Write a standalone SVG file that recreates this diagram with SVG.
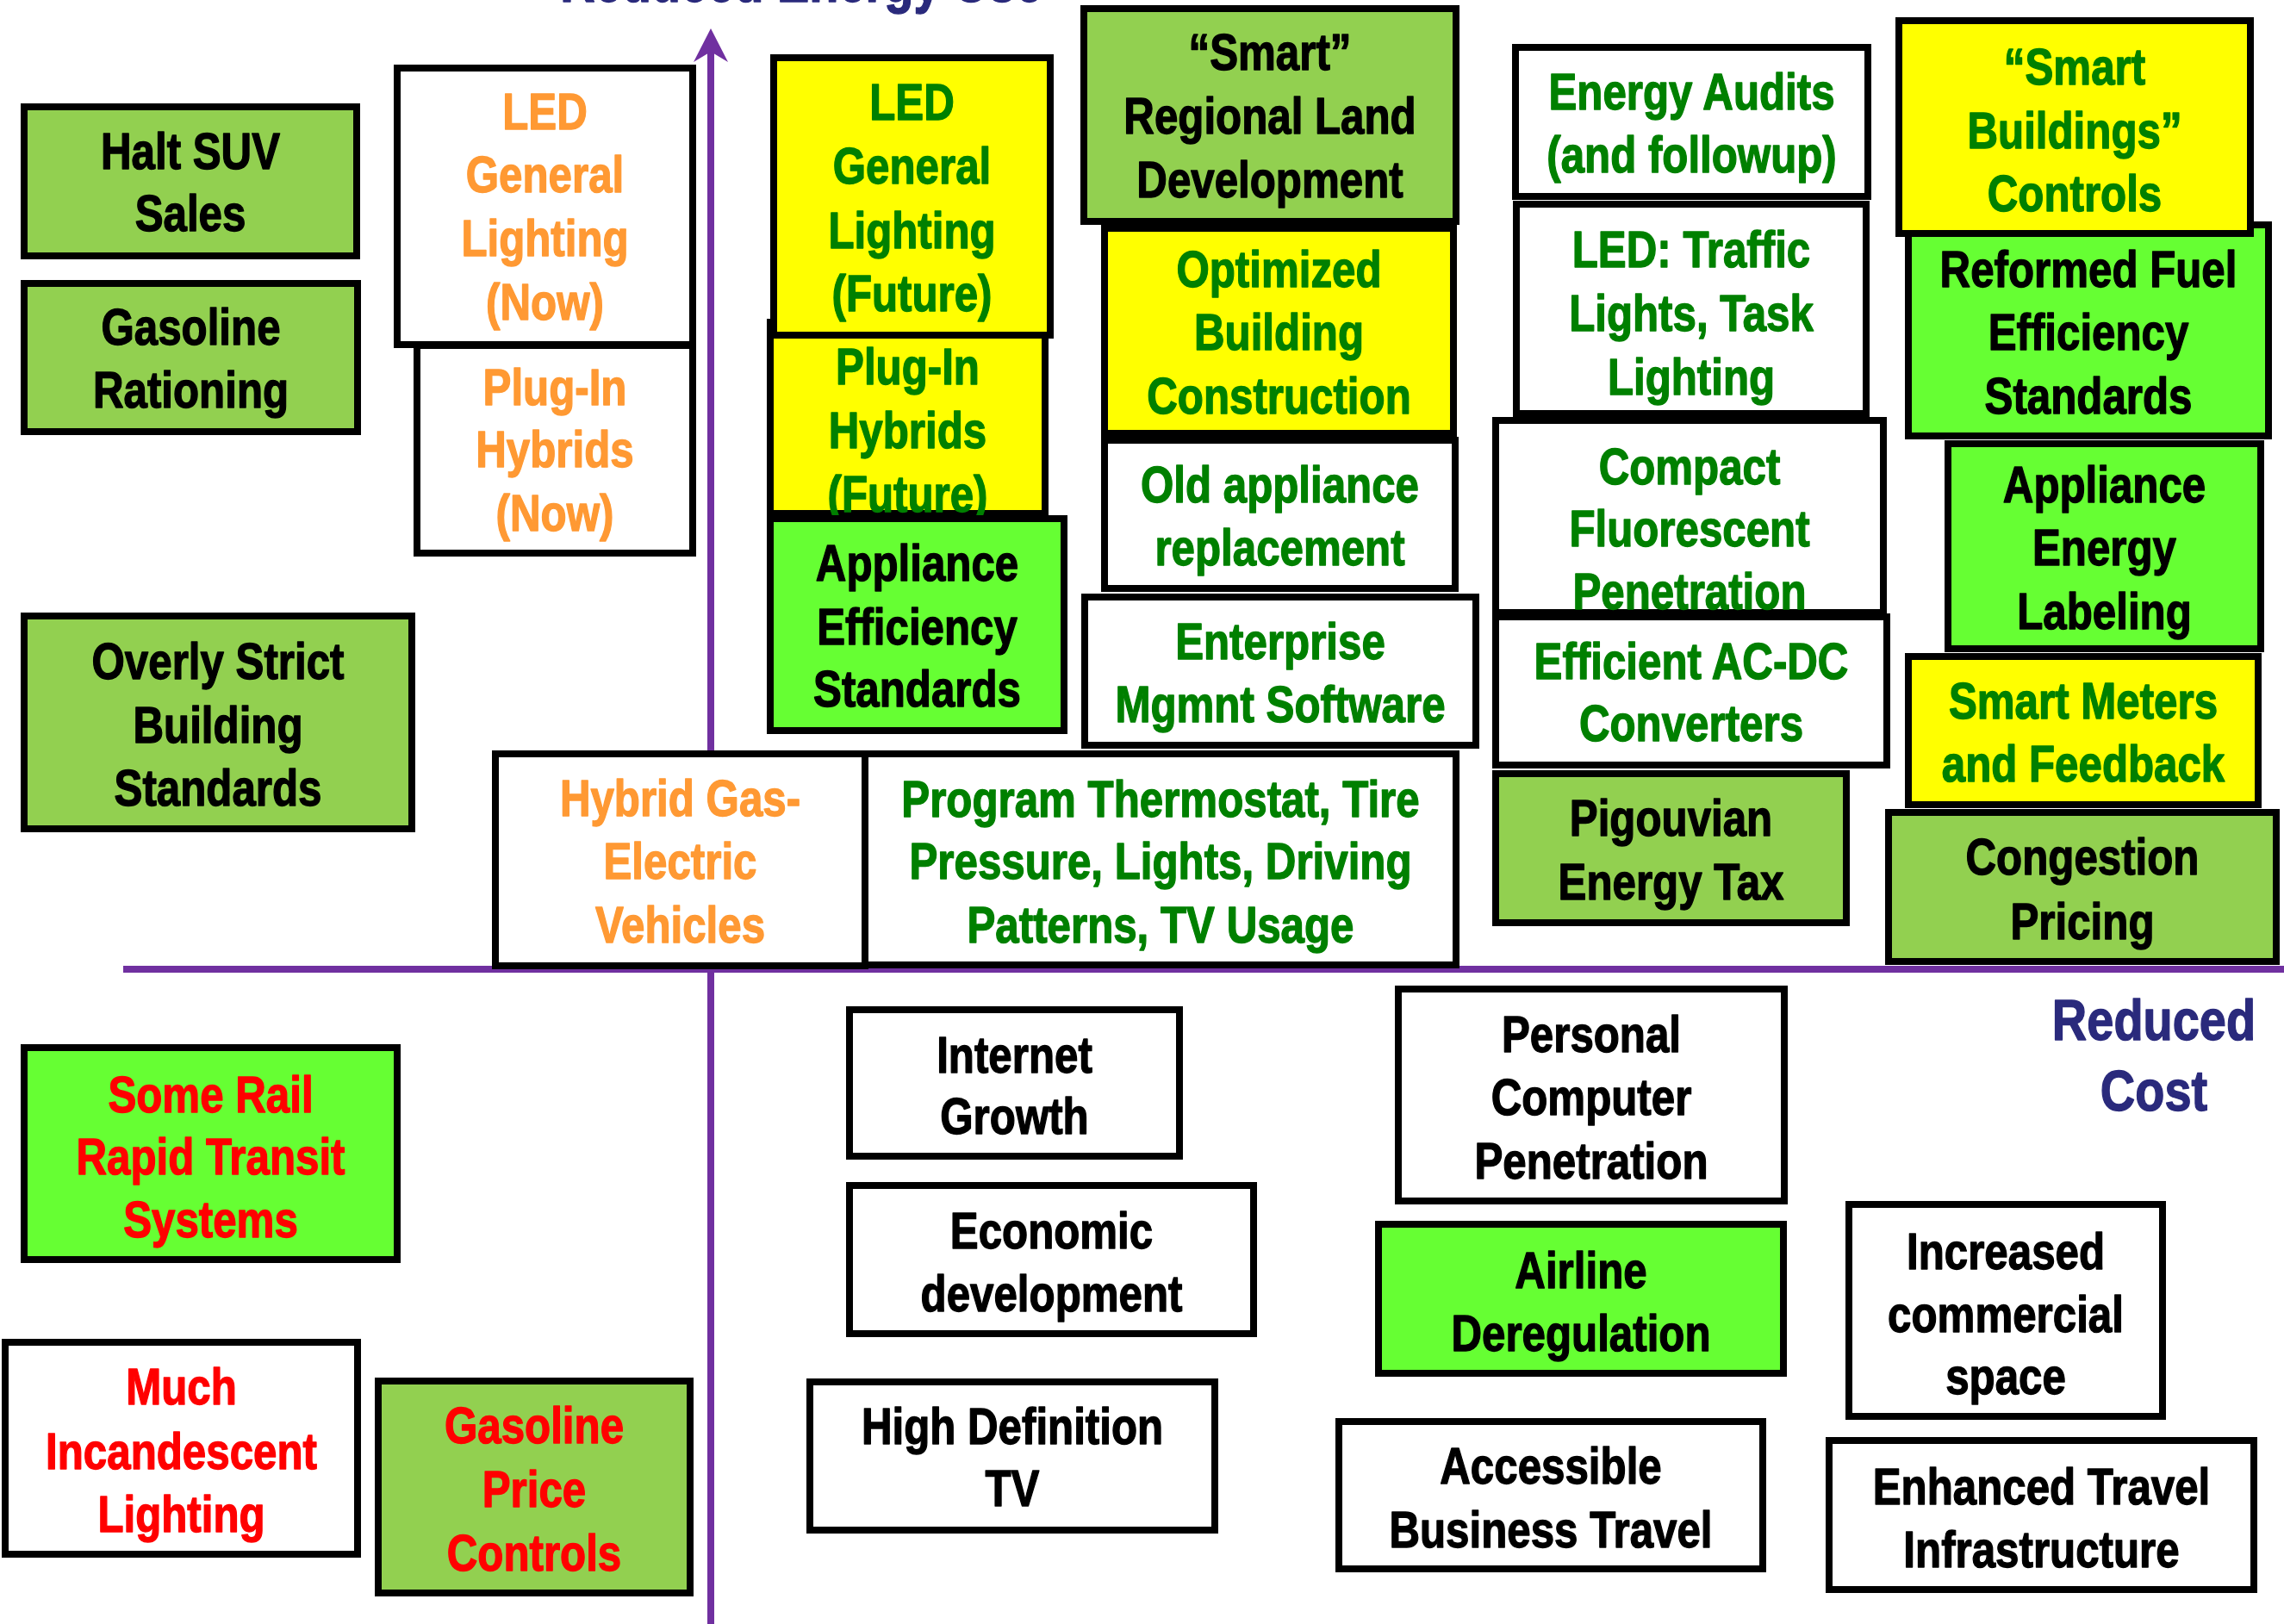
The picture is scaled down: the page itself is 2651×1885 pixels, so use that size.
<svg xmlns="http://www.w3.org/2000/svg" width="2651" height="1885" viewBox="0 0 2651 1885">
  <style>
    .box { stroke: #000; stroke-width: 8; }
    .olive { fill: #92D050; }
    .lime { fill: #66FF33; }
    .yellow { fill: #FFFF00; }
    .white { fill: #FFFFFF; }
    text { font-family: "Liberation Sans", Arial, sans-serif; font-weight: bold; font-size: 59px; text-anchor: middle; stroke-width: 1.4; stroke-linejoin: round; }
    .t-black { fill: #000; stroke: #000; }
    .t-green { fill: #008000; stroke: #008000; }
    .t-orange { fill: #FF9933; stroke: #FF9933; }
    .t-red { fill: #FF0000; stroke: #FF0000; }
    .t-navy { fill: #2A2A7C; stroke: #2A2A7C; font-size: 67px; }
    .axis { stroke: #7030A0; fill: none; }
  </style>
  <defs>
    <marker id="axis-head" markerUnits="userSpaceOnUse" viewBox="-12 -20 39 40" markerWidth="39" markerHeight="40" refX="0" refY="0" orient="auto" overflow="visible">
      <path d="M27,0 L-12,-20 L0,0 L-12,20 Z" fill="#7030A0"/>
    </marker>
  </defs>

  <rect width="2651" height="1885" fill="#FFFFFF"/>

  <!-- axis titles -->
  <text class="t-navy" transform="translate(930 0) scale(0.835 1)"><tspan x="0" y="2">Reduced Energy Use</tspan></text>
  <text class="t-navy" transform="translate(2500 0) scale(0.835 1)"><tspan x="0" y="1207">Reduced</tspan><tspan x="0" y="1289">Cost</tspan></text>

  <!-- axes -->
  <g id="connectors">
    <line class="axis" x1="825" y1="1885" x2="825" y2="60" stroke-width="8" marker-end="url(#axis-head)"/>
    <line class="axis" x1="143" y1="1125" x2="2651" y2="1125" stroke-width="8"/>
  </g>

  <!-- upper-left quadrant -->
  <g id="halt-suv-sales">
    <rect class="box olive" x="28" y="124" width="386" height="173"/>
    <text class="t-black" transform="translate(221 0) scale(0.835 1)"><tspan x="0" y="196">Halt SUV</tspan><tspan x="0" y="268">Sales</tspan></text>
  </g>
  <g id="gasoline-rationing">
    <rect class="box olive" x="28" y="329" width="387" height="172"/>
    <text class="t-black" transform="translate(221.5 0) scale(0.835 1)"><tspan x="0" y="400">Gasoline</tspan><tspan x="0" y="473">Rationing</tspan></text>
  </g>
  <g id="plug-in-hybrids-now">
    <rect class="box white" x="484" y="401" width="320" height="241"/>
    <text class="t-orange" transform="translate(644 0) scale(0.835 1)"><tspan x="0" y="470">Plug-In</tspan><tspan x="0" y="542">Hybrids</tspan><tspan x="0" y="616">(Now)</tspan></text>
  </g>
  <g id="led-general-lighting-now">
    <rect class="box white" x="461" y="79" width="343" height="321"/>
    <text class="t-orange" transform="translate(632.5 0) scale(0.835 1)"><tspan x="0" y="150">LED</tspan><tspan x="0" y="223">General</tspan><tspan x="0" y="297">Lighting</tspan><tspan x="0" y="371">(Now)</tspan></text>
  </g>
  <g id="overly-strict-building-standards">
    <rect class="box olive" x="28" y="715" width="450" height="247"/>
    <text class="t-black" transform="translate(253 0) scale(0.835 1)"><tspan x="0" y="788">Overly Strict</tspan><tspan x="0" y="862">Building</tspan><tspan x="0" y="935">Standards</tspan></text>
  </g>
  <g id="hybrid-gas-electric-vehicles">
    <rect class="box white" x="575" y="875" width="429" height="246"/>
    <text class="t-orange" transform="translate(789.5 0) scale(0.835 1)"><tspan x="0" y="947">Hybrid Gas-</tspan><tspan x="0" y="1020">Electric</tspan><tspan x="0" y="1094">Vehicles</tspan></text>
  </g>

  <!-- upper-right quadrant -->
  <g id="plug-in-hybrids-future">
    <rect class="box yellow" x="894" y="374" width="319" height="222"/>
    <text class="t-green" transform="translate(1053.5 0) scale(0.835 1)"><tspan x="0" y="446">Plug-In</tspan><tspan x="0" y="520">Hybrids</tspan><tspan x="0" y="594">(Future)</tspan></text>
  </g>
  <g id="led-general-lighting-future">
    <rect class="box yellow" x="898" y="67" width="321" height="322"/>
    <text class="t-green" transform="translate(1058.5 0) scale(0.835 1)"><tspan x="0" y="139">LED</tspan><tspan x="0" y="213">General</tspan><tspan x="0" y="288">Lighting</tspan><tspan x="0" y="361">(Future)</tspan></text>
  </g>
  <g id="appliance-efficiency-standards">
    <rect class="box lime" x="894" y="602" width="341" height="246"/>
    <text class="t-black" transform="translate(1064.5 0) scale(0.835 1)"><tspan x="0" y="674">Appliance</tspan><tspan x="0" y="748">Efficiency</tspan><tspan x="0" y="820">Standards</tspan></text>
  </g>
  <g id="smart-regional-land-development">
    <rect class="box olive" x="1258" y="10" width="432" height="247"/>
    <text class="t-black" transform="translate(1474 0) scale(0.835 1)"><tspan x="0" y="81">“Smart”</tspan><tspan x="0" y="155">Regional Land</tspan><tspan x="0" y="229">Development</tspan></text>
  </g>
  <g id="optimized-building-construction">
    <rect class="box yellow" x="1282" y="265" width="405" height="238"/>
    <text class="t-green" transform="translate(1484.5 0) scale(0.835 1)"><tspan x="0" y="333">Optimized</tspan><tspan x="0" y="406">Building</tspan><tspan x="0" y="480">Construction</tspan></text>
  </g>
  <g id="old-appliance-replacement">
    <rect class="box white" x="1282" y="511" width="407" height="172"/>
    <text class="t-green" transform="translate(1485.5 0) scale(0.835 1)"><tspan x="0" y="583">Old appliance</tspan><tspan x="0" y="656">replacement</tspan></text>
  </g>
  <g id="enterprise-mgmnt-software">
    <rect class="box white" x="1259" y="693" width="454" height="172"/>
    <text class="t-green" transform="translate(1486 0) scale(0.835 1)"><tspan x="0" y="765">Enterprise</tspan><tspan x="0" y="838">Mgmnt Software</tspan></text>
  </g>
  <g id="program-thermostat">
    <rect class="box white" x="1004" y="875" width="686" height="245"/>
    <text class="t-green" transform="translate(1347 0) scale(0.835 1)"><tspan x="0" y="948">Program Thermostat, Tire</tspan><tspan x="0" y="1020">Pressure, Lights, Driving</tspan><tspan x="0" y="1094">Patterns, TV Usage</tspan></text>
  </g>
  <g id="energy-audits">
    <rect class="box white" x="1759" y="55" width="409" height="173"/>
    <text class="t-green" transform="translate(1963.5 0) scale(0.835 1)"><tspan x="0" y="127">Energy Audits</tspan><tspan x="0" y="200">(and followup)</tspan></text>
  </g>
  <g id="led-traffic-task-lighting">
    <rect class="box white" x="1760" y="237" width="406" height="243"/>
    <text class="t-green" transform="translate(1963 0) scale(0.835 1)"><tspan x="0" y="310">LED: Traffic</tspan><tspan x="0" y="384">Lights, Task</tspan><tspan x="0" y="458">Lighting</tspan></text>
  </g>
  <g id="compact-fluorescent-penetration">
    <rect class="box white" x="1736" y="488" width="450" height="223"/>
    <text class="t-green" transform="translate(1961 0) scale(0.835 1)"><tspan x="0" y="562">Compact</tspan><tspan x="0" y="634">Fluorescent</tspan><tspan x="0" y="707">Penetration</tspan></text>
  </g>
  <g id="efficient-ac-dc-converters">
    <rect class="box white" x="1736" y="716" width="454" height="172"/>
    <text class="t-green" transform="translate(1963 0) scale(0.835 1)"><tspan x="0" y="788">Efficient AC-DC</tspan><tspan x="0" y="860">Converters</tspan></text>
  </g>
  <g id="pigouvian-energy-tax">
    <rect class="box olive" x="1736" y="898" width="407" height="173"/>
    <text class="t-black" transform="translate(1939.5 0) scale(0.835 1)"><tspan x="0" y="970">Pigouvian</tspan><tspan x="0" y="1044">Energy Tax</tspan></text>
  </g>
  <g id="reformed-fuel-efficiency-standards">
    <rect class="box lime" x="2215" y="261" width="418" height="245"/>
    <text class="t-black" transform="translate(2424 0) scale(0.835 1)"><tspan x="0" y="333">Reformed Fuel</tspan><tspan x="0" y="406">Efficiency</tspan><tspan x="0" y="480">Standards</tspan></text>
  </g>
  <g id="smart-buildings-controls">
    <rect class="box yellow" x="2204" y="24" width="408" height="247"/>
    <text class="t-green" transform="translate(2408 0) scale(0.835 1)"><tspan x="0" y="98">“Smart</tspan><tspan x="0" y="172">Buildings”</tspan><tspan x="0" y="245">Controls</tspan></text>
  </g>
  <g id="appliance-energy-labeling">
    <rect class="box lime" x="2261" y="515" width="363" height="238"/>
    <text class="t-black" transform="translate(2442.5 0) scale(0.835 1)"><tspan x="0" y="583">Appliance</tspan><tspan x="0" y="656">Energy</tspan><tspan x="0" y="730">Labeling</tspan></text>
  </g>
  <g id="smart-meters-feedback">
    <rect class="box yellow" x="2215" y="762" width="406" height="172"/>
    <text class="t-green" transform="translate(2418 0) scale(0.835 1)"><tspan x="0" y="834">Smart Meters</tspan><tspan x="0" y="907">and Feedback</tspan></text>
  </g>
  <g id="congestion-pricing">
    <rect class="box olive" x="2192" y="943" width="450" height="173"/>
    <text class="t-black" transform="translate(2417 0) scale(0.835 1)"><tspan x="0" y="1015">Congestion</tspan><tspan x="0" y="1090">Pricing</tspan></text>
  </g>

  <!-- lower-left quadrant -->
  <g id="some-rail-rapid-transit">
    <rect class="box lime" x="28" y="1216" width="433" height="246"/>
    <text class="t-red" transform="translate(244.5 0) scale(0.835 1)"><tspan x="0" y="1291">Some Rail</tspan><tspan x="0" y="1363">Rapid Transit</tspan><tspan x="0" y="1436">Systems</tspan></text>
  </g>
  <g id="much-incandescent-lighting">
    <rect class="box white" x="6" y="1558" width="409" height="246"/>
    <text class="t-red" transform="translate(210.5 0) scale(0.835 1)"><tspan x="0" y="1630">Much</tspan><tspan x="0" y="1705">Incandescent</tspan><tspan x="0" y="1778">Lighting</tspan></text>
  </g>
  <g id="gasoline-price-controls">
    <rect class="box olive" x="439" y="1603" width="362" height="246"/>
    <text class="t-red" transform="translate(620 0) scale(0.835 1)"><tspan x="0" y="1675">Gasoline</tspan><tspan x="0" y="1749">Price</tspan><tspan x="0" y="1823">Controls</tspan></text>
  </g>

  <!-- lower-right quadrant -->
  <g id="internet-growth">
    <rect class="box white" x="986" y="1172" width="383" height="170"/>
    <text class="t-black" transform="translate(1177.5 0) scale(0.835 1)"><tspan x="0" y="1245">Internet</tspan><tspan x="0" y="1316">Growth</tspan></text>
  </g>
  <g id="economic-development">
    <rect class="box white" x="986" y="1376" width="469" height="172"/>
    <text class="t-black" transform="translate(1220.5 0) scale(0.835 1)"><tspan x="0" y="1449">Economic</tspan><tspan x="0" y="1522">development</tspan></text>
  </g>
  <g id="high-definition-tv">
    <rect class="box white" x="940" y="1604" width="470" height="172"/>
    <text class="t-black" transform="translate(1175 0) scale(0.835 1)"><tspan x="0" y="1676">High Definition</tspan><tspan x="0" y="1748">TV</tspan></text>
  </g>
  <g id="personal-computer-penetration">
    <rect class="box white" x="1623" y="1148" width="448" height="246"/>
    <text class="t-black" transform="translate(1847 0) scale(0.835 1)"><tspan x="0" y="1221">Personal</tspan><tspan x="0" y="1294">Computer</tspan><tspan x="0" y="1368">Penetration</tspan></text>
  </g>
  <g id="airline-deregulation">
    <rect class="box lime" x="1600" y="1421" width="470" height="173"/>
    <text class="t-black" transform="translate(1835 0) scale(0.835 1)"><tspan x="0" y="1495">Airline</tspan><tspan x="0" y="1568">Deregulation</tspan></text>
  </g>
  <g id="accessible-business-travel">
    <rect class="box white" x="1554" y="1650" width="492" height="171"/>
    <text class="t-black" transform="translate(1800 0) scale(0.835 1)"><tspan x="0" y="1722">Accessible</tspan><tspan x="0" y="1796">Business Travel</tspan></text>
  </g>
  <g id="increased-commercial-space">
    <rect class="box white" x="2146" y="1398" width="364" height="246"/>
    <text class="t-black" transform="translate(2328 0) scale(0.835 1)"><tspan x="0" y="1473">Increased</tspan><tspan x="0" y="1546">commercial</tspan><tspan x="0" y="1618">space</tspan></text>
  </g>
  <g id="enhanced-travel-infrastructure">
    <rect class="box white" x="2123" y="1672" width="493" height="173"/>
    <text class="t-black" transform="translate(2369.5 0) scale(0.835 1)"><tspan x="0" y="1746">Enhanced Travel</tspan><tspan x="0" y="1819">Infrastructure</tspan></text>
  </g>
</svg>
